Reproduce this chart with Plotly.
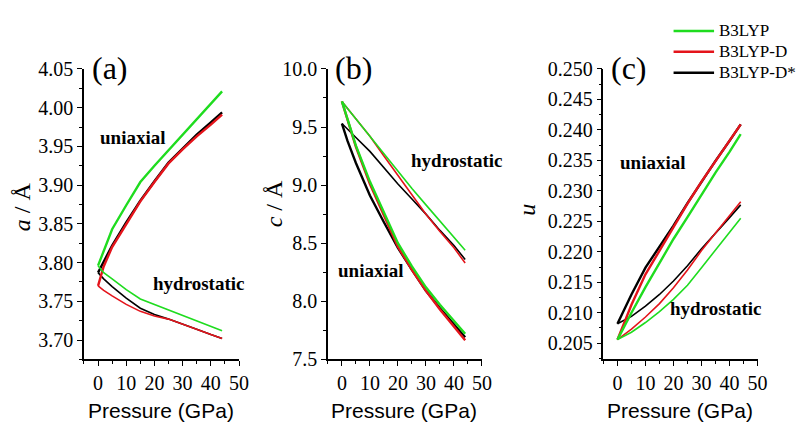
import plotly.graph_objects as go

# Pressure grid (GPa)
pressure = [0, 2, 5, 10, 15, 20, 25, 30, 35, 40, 44]

methods = ["B3LYP", "B3LYP-D", "B3LYP-D*"]
colors = {"B3LYP": "#1fdc1f", "B3LYP-D": "#e4141b", "B3LYP-D*": "#000000"}

# Lattice parameter a (Å)
a_uni_b3lyp = [3.796, 3.814, 3.843, 3.874, 3.904, 3.925, 3.945, 3.965, 3.985, 4.004, 4.021]
a_uni_d = [3.770, 3.795, 3.820, 3.850, 3.879, 3.904, 3.928, 3.946, 3.963, 3.978, 3.991]
a_uni_dstar = [3.787, 3.801, 3.822, 3.852, 3.880, 3.905, 3.929, 3.947, 3.965, 3.981, 3.994]
a_hyd_b3lyp = [3.796, 3.787, 3.779, 3.765, 3.753, 3.746, 3.739, 3.732, 3.725, 3.718, 3.712]
a_hyd_d = [3.770, 3.764, 3.757, 3.746, 3.737, 3.731, 3.727, 3.720, 3.713, 3.707, 3.702]
a_hyd_dstar = [3.787, 3.779, 3.769, 3.754, 3.741, 3.733, 3.727, 3.721, 3.714, 3.707, 3.702]

# Lattice parameter c (Å)
c_uni_b3lyp = [9.72, 9.57, 9.34, 9.03, 8.76, 8.50, 8.30, 8.12, 7.97, 7.83, 7.72]
c_uni_d = [9.72, 9.57, 9.33, 9.01, 8.74, 8.47, 8.27, 8.09, 7.93, 7.78, 7.665]
c_uni_dstar = [9.53, 9.38, 9.19, 8.91, 8.68, 8.46, 8.27, 8.09, 7.94, 7.80, 7.69]
c_hyd_b3lyp = [9.72, 9.66, 9.57, 9.42, 9.27, 9.12, 8.97, 8.83, 8.69, 8.55, 8.44]
c_hyd_d = [9.72, 9.66, 9.57, 9.42, 9.25, 9.08, 8.91, 8.75, 8.60, 8.46, 8.33]
c_hyd_dstar = [9.53, 9.48, 9.41, 9.29, 9.15, 9.01, 8.88, 8.75, 8.61, 8.48, 8.36]

# Internal coordinate u
u_uni_b3lyp = [0.2056, 0.2074, 0.2100, 0.2142, 0.2182, 0.2221, 0.2257, 0.2294, 0.2330, 0.2364, 0.2393]
u_uni_d = [0.2056, 0.2079, 0.2113, 0.2163, 0.2202, 0.2242, 0.2279, 0.2315, 0.2349, 0.2382, 0.2409]
u_uni_dstar = [0.2082, 0.2102, 0.2130, 0.2174, 0.2208, 0.2243, 0.2280, 0.2315, 0.2349, 0.2382, 0.2409]
u_hyd_b3lyp = [0.2056, 0.2061, 0.2068, 0.2084, 0.2102, 0.2122, 0.2145, 0.2174, 0.2203, 0.2231, 0.2255]
u_hyd_d = [0.2056, 0.2063, 0.2073, 0.2093, 0.2115, 0.2141, 0.2170, 0.2202, 0.2230, 0.2258, 0.2282]
u_hyd_dstar = [0.2082, 0.2087, 0.2094, 0.2111, 0.2130, 0.2152, 0.2177, 0.2205, 0.2230, 0.2256, 0.2277]

panels = [
    ("x", "y", {"B3LYP": (a_uni_b3lyp, a_hyd_b3lyp), "B3LYP-D": (a_uni_d, a_hyd_d), "B3LYP-D*": (a_uni_dstar, a_hyd_dstar)}),
    ("x2", "y2", {"B3LYP": (c_uni_b3lyp, c_hyd_b3lyp), "B3LYP-D": (c_uni_d, c_hyd_d), "B3LYP-D*": (c_uni_dstar, c_hyd_dstar)}),
    ("x3", "y3", {"B3LYP": (u_uni_b3lyp, u_hyd_b3lyp), "B3LYP-D": (u_uni_d, u_hyd_d), "B3LYP-D*": (u_uni_dstar, u_hyd_dstar)}),
]

W, H = 809, 434
SERIF = "Liberation Serif"
SANS = "Liberation Sans"

fig = go.Figure()
draw_order = ["B3LYP-D*", "B3LYP-D", "B3LYP"]
for xa, ya, series in panels:
    for m in draw_order:
        uni, hyd = series[m]
        fig.add_trace(go.Scatter(x=pressure, y=uni, xaxis=xa, yaxis=ya, mode="lines",
                                 line=dict(color=colors[m], width=2.4), name=m, showlegend=False))
        fig.add_trace(go.Scatter(x=pressure, y=hyd, xaxis=xa, yaxis=ya, mode="lines",
                                 line=dict(color=colors[m], width=1.6), name=m, showlegend=False))


def px_x(p):
    return p / W


def px_y(p):
    return 1 - p / H


y_dom = [px_y(367), px_y(61)]
x_doms = [[px_x(85), px_x(242)], [px_x(332), px_x(488)], [px_x(611), px_x(767)]]
y_specs = [
    dict(range=[3.675, 4.05], tickvals=[3.70, 3.75, 3.80, 3.85, 3.90, 3.95, 4.00, 4.05], tickformat=".2f", minor_dtick=0.025, minor_tick0=3.70),
    dict(range=[7.5, 10.0], tickvals=[7.5, 8.0, 8.5, 9.0, 9.5, 10.0], tickformat=".1f", minor_dtick=0.25, minor_tick0=7.5),
    dict(range=[0.20235, 0.250], tickvals=[0.205, 0.210, 0.215, 0.220, 0.225, 0.230, 0.235, 0.240, 0.245, 0.250], tickformat=".3f", minor_dtick=0.0025, minor_tick0=0.205),
]

layout = dict(width=W, height=H, margin=dict(l=0, r=0, t=0, b=0),
              paper_bgcolor="white", plot_bgcolor="white", hovermode=False,
              font=dict(family=SERIF, size=20, color="black"), showlegend=False)

for i in range(3):
    xk = "xaxis" if i == 0 else f"xaxis{i+1}"
    yk = "yaxis" if i == 0 else f"yaxis{i+1}"
    ys = y_specs[i]
    layout[xk] = dict(domain=x_doms[i], range=[-5, 50], tickvals=[0, 10, 20, 30, 40, 50],
                      anchor="y" if i == 0 else f"y{i+1}",
                      minor=dict(dtick=5, tick0=0, ticklen=3, tickwidth=1.2, tickcolor="black", ticks="outside", showgrid=False))
    layout[yk] = dict(domain=y_dom, range=ys["range"], tickvals=ys["tickvals"], tickformat=ys["tickformat"],
                      anchor="x" if i == 0 else f"x{i+1}",
                      minor=dict(dtick=ys["minor_dtick"], tick0=ys["minor_tick0"], ticklen=3, tickwidth=1.2,
                                 tickcolor="black", ticks="outside", showgrid=False))

fig.update_layout(**layout)
axis_style = dict(showgrid=False, zeroline=False, showline=True, linecolor="black", linewidth=1.5,
                  ticks="outside", ticklen=5, tickwidth=1.3, tickcolor="black",
                  tickfont=dict(family=SERIF, size=20, color="black"))
fig.update_xaxes(**axis_style)
fig.update_yaxes(**axis_style)


def label(text, x, y, size, family=SERIF, angle=0, anchor="center"):
    fig.add_annotation(text=text, x=px_x(x), y=px_y(y), xref="paper", yref="paper",
                       showarrow=False, textangle=angle, xanchor=anchor, yanchor="middle",
                       font=dict(family=family, size=size, color="black"))


# Panel tags
label("(a)", 111, 60, 32)
label("(b)", 358, 60, 32)
label("(c)", 637, 60, 32)

# Axis titles
label("<i>a</i> / Å", 22, 206, 24, angle=-90)
label("<i>c</i> / Å", 277, 203, 24, angle=-90)
label("<i>u</i>", 534, 209, 24, angle=-90)
for xc in (163, 409, 689):
    label("Pressure (GPa)", xc, 421, 21, family=SANS)

# Compression mode labels
label("<b>uniaxial</b>", 134, 133, 19)
label("<b>hydrostatic</b>", 201, 287, 19)
label("<b>hydrostatic</b>", 462, 157, 19)
label("<b>uniaxial</b>", 375, 273, 19)
label("<b>uniaxial</b>", 661, 160, 19)
label("<b>hydrostatic</b>", 724, 313, 19)

# Method key, top right
for row, m in enumerate(methods):
    yc = 21 + 22 * row
    fig.add_shape(type="line", xref="paper", yref="paper", x0=px_x(682), x1=px_x(723),
                  y0=px_y(yc), y1=px_y(yc), line=dict(color=colors[m], width=2.4))
    label(m, 726, yc, 17, anchor="left")

fig.write_html("out.html")
